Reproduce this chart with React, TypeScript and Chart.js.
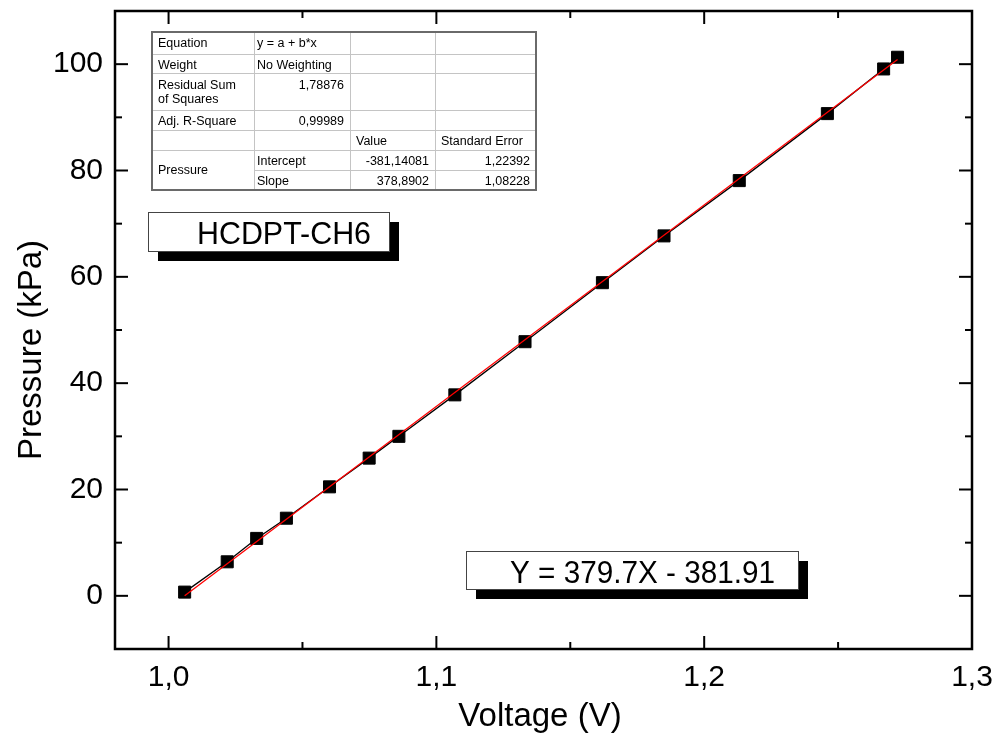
import React, { useEffect, useRef } from "react";
import { Chart, registerables } from "chart.js";

Chart.register(...registerables);

// ---- data ----
const voltage = [1.006, 1.0219, 1.0329, 1.044, 1.0601, 1.0749, 1.086, 1.1069, 1.1331, 1.162, 1.185, 1.2131, 1.246, 1.267, 1.2722];
const pressure = [0.7, 6.4, 10.8, 14.6, 20.5, 25.9, 30.0, 37.8, 47.8, 58.9, 67.7, 78.1, 90.7, 99.1, 101.3];

const fitIntercept = -381.14081;
const fitSlope = 378.8902;

const xTickValues = [1.0, 1.1, 1.2, 1.3];
const xTickLabels = ["1,0", "1,1", "1,2", "1,3"];
const xMinorValues = [1.05, 1.15, 1.25];
const yTickValues = [0, 20, 40, 60, 80, 100];
const yTickLabels = ["0", "20", "40", "60", "80", "100"];
const yMinorValues = [10, 30, 50, 70, 90];

const xTitle = "Voltage (V)";
const yTitle = "Pressure (kPa)";
const sampleLabel = "HCDPT-CH6";
const equationLabel = "Y = 379.7X - 381.91";

// fit-report table (text contents)
const tableRow0 = ["Equation", "y = a + b*x", "", ""];
const tableRow1 = ["Weight", "No Weighting", "", ""];
const tableRow2 = ["Residual Sum|of Squares", "1,78876", "", ""];
const tableRow3 = ["Adj. R-Square", "0,99989", "", ""];
const tableRow4 = ["", "", "Value", "Standard Error"];
const tableRow5 = ["Pressure", "Intercept", "-381,14081", "1,22392"];
const tableRow6 = ["", "Slope", "378,8902", "1,08228"];

const FONT = '"Liberation Sans", Arial, sans-serif';

const overlayPlugin = {
  id: "overlay",
  afterDraw(chart: any) {
    const { ctx, chartArea: a, scales } = chart;
    const xs = scales.x;
    const ys = scales.y;
    ctx.save();

    // ---- frame and inward ticks ----
    ctx.strokeStyle = "#000";
    ctx.lineCap = "butt";
    const seg = (x1: number, y1: number, x2: number, y2: number) => {
      ctx.beginPath();
      ctx.moveTo(x1, y1);
      ctx.lineTo(x2, y2);
      ctx.stroke();
    };
    ctx.lineWidth = 2;
    const major = 13;
    const minor = 7;
    xTickValues.forEach((v) => {
      const p = xs.getPixelForValue(v);
      seg(p, a.bottom, p, a.bottom - major);
      seg(p, a.top, p, a.top + major);
    });
    xMinorValues.forEach((v) => {
      const p = xs.getPixelForValue(v);
      seg(p, a.bottom, p, a.bottom - minor);
      seg(p, a.top, p, a.top + minor);
    });
    yTickValues.forEach((v) => {
      const p = ys.getPixelForValue(v);
      seg(a.left, p, a.left + major, p);
      seg(a.right, p, a.right - major, p);
    });
    yMinorValues.forEach((v) => {
      const p = ys.getPixelForValue(v);
      seg(a.left, p, a.left + minor, p);
      seg(a.right, p, a.right - minor, p);
    });
    ctx.lineWidth = 2.5;
    ctx.strokeRect(a.left, a.top, a.right - a.left, a.bottom - a.top);

    // ---- axis titles ----
    ctx.fillStyle = "#000";
    ctx.font = `33px ${FONT}`;
    ctx.textAlign = "center";
    ctx.textBaseline = "alphabetic";
    ctx.fillText(xTitle, 540, 726);
    ctx.save();
    ctx.translate(41, 350);
    ctx.rotate(-Math.PI / 2);
    ctx.fillText(yTitle, 0, 0);
    ctx.restore();

    // ---- shadowed label boxes ----
    const shadowBox = (x: number, y: number, w: number, h: number, text: string, tx: number, ty: number, maxW: number) => {
      ctx.fillStyle = "#000";
      ctx.fillRect(x + 10, y + 10, w, h);
      ctx.fillStyle = "#fff";
      ctx.fillRect(x, y, w, h);
      ctx.strokeStyle = "#444";
      ctx.lineWidth = 1;
      ctx.strokeRect(x + 0.5, y + 0.5, w, h);
      ctx.fillStyle = "#000";
      ctx.font = `31px ${FONT}`;
      ctx.textAlign = "left";
      ctx.textBaseline = "alphabetic";
      ctx.fillText(text, tx, ty, maxW);
    };
    shadowBox(148, 212, 241, 39, sampleLabel, 197, 244, 174);
    shadowBox(466, 551, 332, 38, equationLabel, 510, 583, 265);

    // ---- fit table ----
    const colX = [152, 254, 350, 435, 536];
    const rowY = [32, 54, 73, 110, 130, 150, 170, 190];
    const rows = [tableRow0, tableRow1, tableRow2, tableRow3, tableRow4, tableRow5, tableRow6];
    ctx.fillStyle = "#fff";
    ctx.fillRect(colX[0], rowY[0], colX[4] - colX[0], rowY[7] - rowY[0]);
    ctx.strokeStyle = "#c4c4c4";
    ctx.lineWidth = 1;
    for (let r = 1; r < 7; r++) {
      const startX = r === 6 ? colX[1] : colX[0];
      seg(startX, rowY[r] + 0.5, colX[4], rowY[r] + 0.5);
    }
    for (let c = 1; c < 4; c++) {
      seg(colX[c] + 0.5, rowY[0], colX[c] + 0.5, rowY[7]);
    }
    ctx.strokeStyle = "#6a6a6a";
    ctx.lineWidth = 2;
    ctx.strokeRect(colX[0], rowY[0], colX[4] - colX[0], rowY[7] - rowY[0]);

    ctx.fillStyle = "#000";
    ctx.font = `12.5px ${FONT}`;
    ctx.textBaseline = "alphabetic";
    const isNum = (s: string) => /^-?[0-9]/.test(s);
    rows.forEach((row, r) => {
      row.forEach((cell, c) => {
        if (!cell) return;
        const lines = cell.split("|");
        let base = rowY[r] + 15;
        if (r === 2) base = rowY[r] + 16;
        if (r === 5 && c === 0) base = (rowY[5] + rowY[7]) / 2 + 4;
        lines.forEach((ln, i) => {
          if (isNum(ln)) {
            ctx.textAlign = "right";
            ctx.fillText(ln, colX[c + 1] - 6, base + i * 14);
          } else {
            ctx.textAlign = "left";
            ctx.fillText(ln, colX[c] + (c === 1 ? 3 : 6), base + i * 14);
          }
        });
      });
    });

    ctx.restore();
  },
};

export default function App() {
  const ref = useRef<HTMLCanvasElement | null>(null);

  useEffect(() => {
    if (!ref.current) return;
    const points = voltage.map((v, i) => ({ x: v, y: pressure[i] }));
    const xFirst = voltage[0];
    const xLast = voltage[voltage.length - 1];
    const fitPoints = [
      { x: xFirst, y: fitIntercept + fitSlope * xFirst },
      { x: xLast, y: fitIntercept + fitSlope * xLast },
    ];
    const chart = new Chart(ref.current, {
      type: "scatter",
      data: {
        datasets: [
          {
            label: "Linear fit",
            data: fitPoints,
            showLine: true,
            borderColor: "#ff0000",
            borderWidth: 1.3,
            pointRadius: 0,
            fill: false,
          },
          {
            label: "Pressure",
            data: points,
            showLine: true,
            borderColor: "#000",
            borderWidth: 1.3,
            backgroundColor: "#000",
            pointStyle: "rect",
            pointRadius: 8.5,
            pointBackgroundColor: "#000",
            pointBorderColor: "#000",
            pointBorderWidth: 1,
            fill: false,
          },
        ],
      },
      options: {
        animation: false,
        responsive: false,
        events: [],
        plugins: { legend: { display: false }, tooltip: { enabled: false } },
        layout: { padding: { left: 0, top: 11, right: 25, bottom: 0 } },
        scales: {
          x: {
            type: "linear",
            min: 0.98,
            max: 1.3,
            grid: { display: false, drawTicks: false },
            border: { display: false },
            ticks: {
              autoSkip: false,
              maxRotation: 0,
              padding: 11,
              color: "#000",
              font: { family: FONT, size: 30 },
              callback: (_v: any, i: number) => xTickLabels[i],
            },
            afterBuildTicks: (s: any) => {
              s.ticks = xTickValues.map((v) => ({ value: v }));
            },
            afterFit: (s: any) => {
              s.height = 88;
              s.paddingLeft = 0;
              s.paddingRight = 0;
              s.paddingTop = 0;
              s.paddingBottom = 0;
            },
          },
          y: {
            type: "linear",
            min: -10,
            max: 110,
            grid: { display: false, drawTicks: false },
            border: { display: false },
            ticks: {
              autoSkip: false,
              padding: 12,
              color: "#000",
              font: { family: FONT, size: 30 },
              callback: (_v: any, i: number) => yTickLabels[i],
            },
            afterBuildTicks: (s: any) => {
              s.ticks = yTickValues.map((v) => ({ value: v }));
            },
            afterFit: (s: any) => {
              s.width = 115;
              s.paddingLeft = 0;
              s.paddingRight = 0;
              s.paddingTop = 0;
              s.paddingBottom = 0;
            },
          },
        },
      },
      plugins: [overlayPlugin],
    });
    return () => chart.destroy();
  }, []);

  return (
    <div style={{ position: "absolute", left: 0, top: 0, width: 997, height: 737, background: "#fff" }}>
      <canvas ref={ref} width={997} height={737} style={{ display: "block", width: 997, height: 737 }} />
    </div>
  );
}
